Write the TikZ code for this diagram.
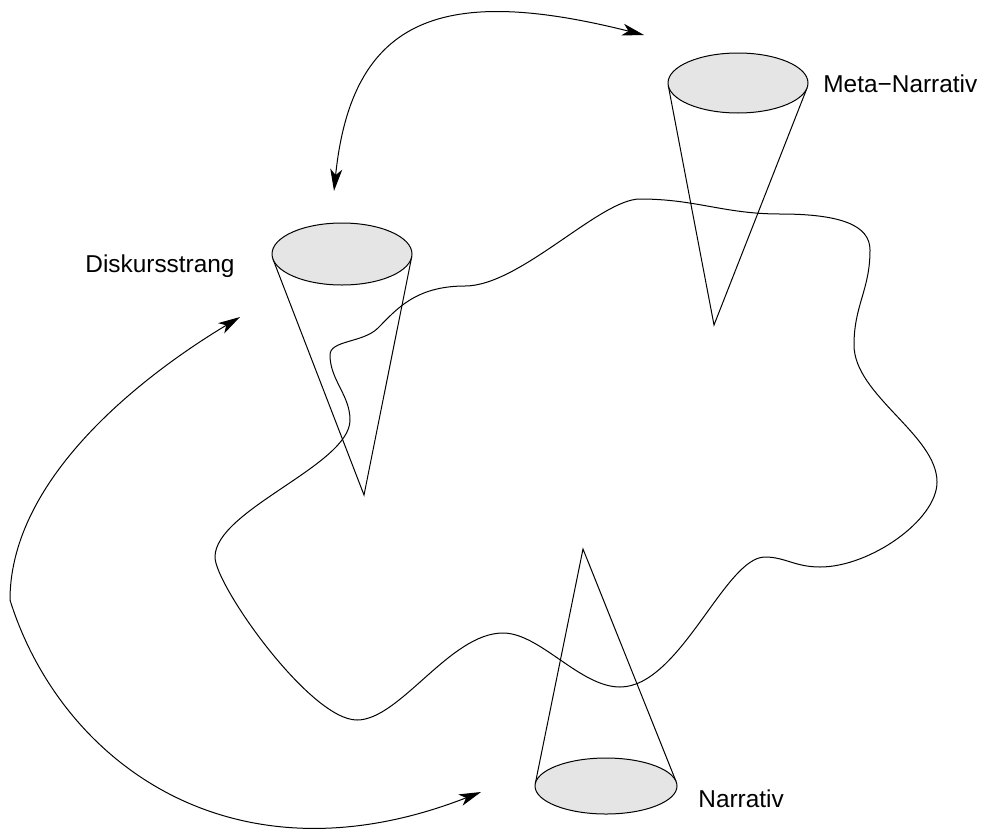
\documentclass[tikz,border=0pt]{standalone}
\usepackage{fontspec}
\setmainfont{Liberation Sans}
\usetikzlibrary{arrows.meta,calc}
\tikzset{
  thin line/.style={line width=0.5pt, black},
  conefill/.style={fill=black!10, draw=black, line width=0.5pt},
  tipstyle/.style={},
  arr/.style={line width=0.5pt, -{Stealth[length=11pt, width=6pt, inset=3pt]}},
  darr/.style={line width=0.5pt, {Stealth[length=11pt, width=6pt, inset=3pt]}-{Stealth[length=11pt, width=6pt, inset=3pt]}},
  lbl/.style={anchor=base west, inner sep=0pt, font=\fontsize{12.2}{14}\selectfont},
}
\begin{document}
\begin{tikzpicture}[x=0.5pt, y=-0.5pt]
\useasboundingbox (0,0) rectangle (983,835);

% wavy closed curve
\draw[thin line]
  (640,199) .. controls (696,199) and (724,214) .. (780,214)
  .. controls (840,214) and (870,225) .. (870,250)
  .. controls (870,290) and (854,305) .. (854,345)
  .. controls (854,395) and (937,435) .. (937,482)
  .. controls (937,520) and (870,567) .. (820,567)
  .. controls (795,567) and (785,557) .. (765,557)
  .. controls (725,557) and (680,687) .. (620,687)
  .. controls (580,687) and (540,633) .. (503,633)
  .. controls (450,633) and (400,720) .. (357,720)
  .. controls (310,720) and (215,585) .. (215,557)
  .. controls (215,510) and (350,465) .. (350,420)
  .. controls (350,395) and (330,380) .. (330,355)
  .. controls (330,340) and (363,343) .. (378,328)
  .. controls (396,310) and (415,286) .. (465,286)
  .. controls (520,286) and (600,199) .. cycle;

% cone 1 (Diskursstrang)
\coordinate (c1) at (342,254);
\coordinate (a1) at (364,495);
\draw[thin line] ($(c1)+(170.3:70 and 31)$) -- (a1) -- ($(c1)+(5.1:70 and 31)$);
\draw[conefill] (c1) ellipse [x radius=70, y radius=31];

% cone 2 (Meta-Narrativ)
\coordinate (c2) at (738,83);
\coordinate (a2) at (714,325);
\draw[thin line] ($(c2)+(175.3:70 and 30)$) -- (a2) -- ($(c2)+(9.5:70 and 30)$);
\draw[conefill] (c2) ellipse [x radius=70, y radius=30];

% cone 3 (Narrativ)
\coordinate (c3) at (606,786);
\coordinate (a3) at (583,549);
\draw[thin line] ($(c3)+(184.6:71 and 28)$) -- (a3) -- ($(c3)+(351:71 and 28)$);
\draw[conefill] (c3) ellipse [x radius=71, y radius=28];

% labels
\node[lbl] (t1) at (85,272) {Diskursstrang};
\node[lbl] (t2) at (823,92) {Meta−Narrativ};
\node[lbl] (t3) at (698,807) {Narrativ};

% arrows
\coordinate (p1) at (334,191);
\coordinate (p2) at (644,35);
\draw[darr] (p1) .. controls (352,15) and (445,-15) .. (p2);

\coordinate (q1) at (240,317);
\coordinate (qm) at (10,600);
\coordinate (q2) at (481,792);
\draw[arr] (qm) .. controls (10,470) and (160,365) .. (q1);
\draw[arr] (qm) .. controls (60,760) and (230,890) .. (q2);
\end{tikzpicture}
\end{document}
